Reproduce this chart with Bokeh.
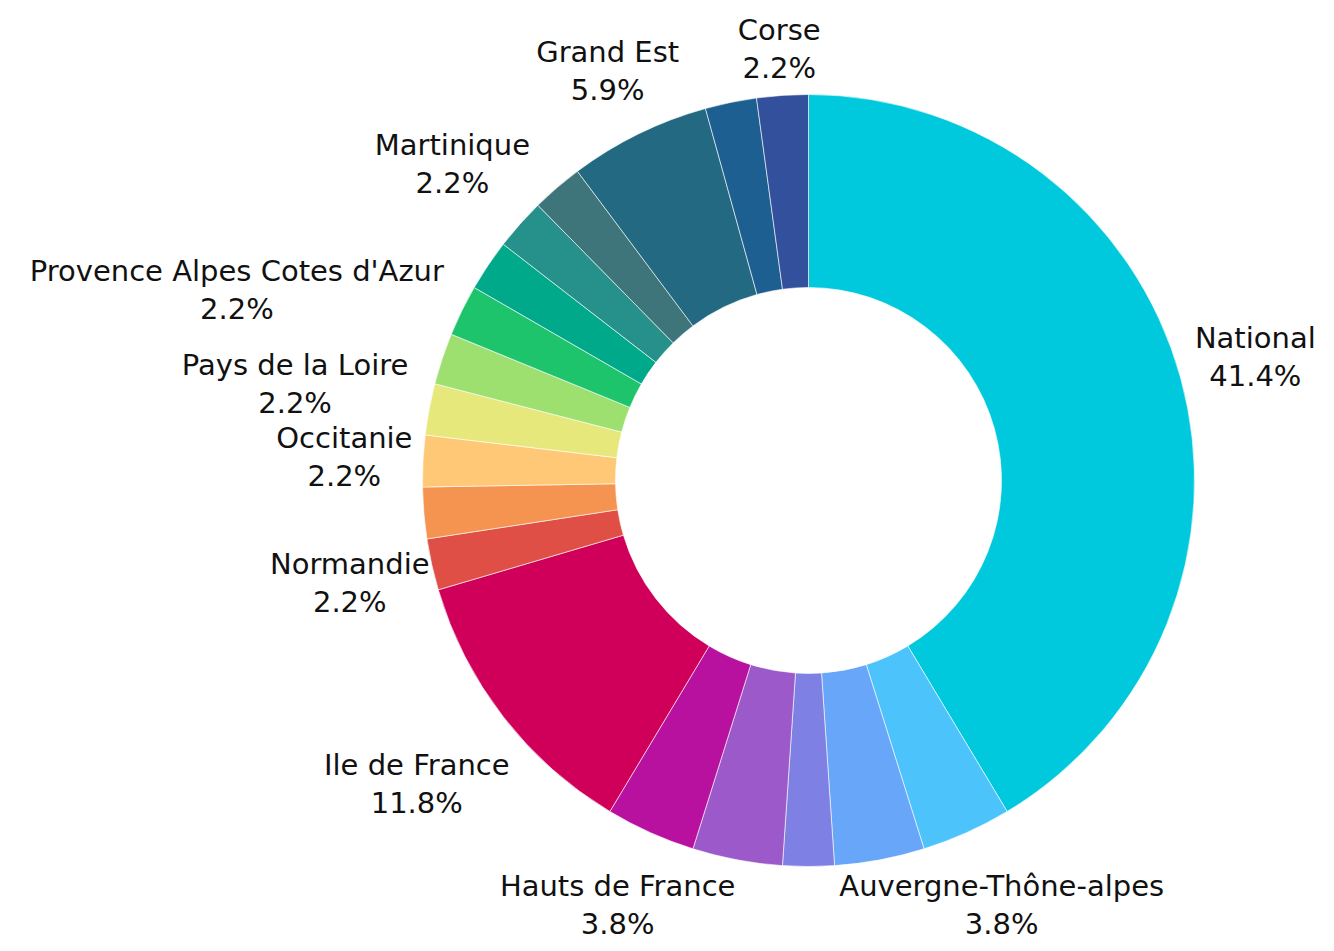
import math
from bokeh.plotting import figure
from bokeh.models import ColumnDataSource, Range1d
from bokeh.core.properties import value
from bokeh.embed import file_html
from bokeh.resources import INLINE

# ---- data (slices clockwise from 12 o'clock) ----
regions = ["National", "Auvergne-Thône-alpes", "", "", "", "Hauts de France",
           "Ile de France", "Normandie", "", "Occitanie", "Pays de la Loire",
           "Provence Alpes Cotes d'Azur", "", "", "Martinique", "", "Grand Est",
           "", "Corse"]
counts = [77, 7, 7, 4, 7, 7, 22, 4, 4, 4, 4, 4, 4, 4, 4, 4, 11, 4, 4]
colors = ["#00C9DD", "#4DC3FB", "#67A6F8", "#7F80E4", "#9B59C9", "#B9119F",
          "#D0005A", "#E04F45", "#F59350", "#FEC877", "#E6E87B", "#9DE070",
          "#1DC46C", "#00A98A", "#26918A", "#3D757A", "#226981", "#1E5F91",
          "#32509B"]

# ---- layout ----
W, H = 1326, 943
CX, CY = 808, 480          # centre, in figure pixels measured from top
R_OUT, R_IN = 386, 193
R_LAB = 395                # labels keep clear of this circle
FS = 29
GAP = 38
FONT = "DejaVu Sans"

total = sum(counts)
starts, ends, mids = [], [], []
acc = 0.0
for c in counts:
    t0 = acc / total * 2 * math.pi
    acc += c
    t1 = acc / total * 2 * math.pi
    starts.append(math.pi / 2 - t0)
    ends.append(math.pi / 2 - t1)
    mids.append((t0 + t1) / 2)

p = figure(width=W, height=H, output_backend="svg", toolbar_location=None,
           x_range=Range1d(0, W), y_range=Range1d(0, H), min_border=0)
p.axis.visible = False
p.grid.visible = False
p.outline_line_color = None
p.background_fill_color = "white"

src = ColumnDataSource(dict(start=starts, end=ends, color=colors))
p.annular_wedge(x=CX, y=H - CY, inner_radius=R_IN, outer_radius=R_OUT,
                start_angle="start", end_angle="end", direction="clock",
                fill_color="color", line_color="white", line_width=0.6,
                source=src)

lx, ly1, ly2, names, pcts = [], [], [], [], []
for name, c, t in zip(regions, counts, mids):
    if not name:
        continue
    pct = f"{100 * c / total:.1f}%"
    hw = 0.53 * FS * max(len(name), len(pct)) / 2
    hh = GAP / 2 + 18
    ux, uy = math.sin(t), -math.cos(t)
    lo, hi = 0.0, 1200.0
    for _ in range(60):
        d = (lo + hi) / 2
        bx, by = d * ux, d * uy
        dx = max(abs(bx) - hw, 0)
        dy = max(abs(by) - hh, 0)
        if math.hypot(dx, dy) < R_LAB:
            lo = d
        else:
            hi = d
    bx, by = CX + hi * ux, CY + hi * uy
    # keep the block inside the canvas
    by = min(by, H - GAP / 2 - FS * 0.62 - 2)
    by = max(by, GAP / 2 + FS * 0.62 + 2)
    lx.append(bx)
    ly1.append(H - (by - GAP / 2))
    ly2.append(H - (by + GAP / 2))
    names.append(name)
    pcts.append(pct)

lsrc = ColumnDataSource(dict(x=lx, y1=ly1, y2=ly2, name=names, pct=pcts))
for ycol, tcol in (("y1", "name"), ("y2", "pct")):
    p.text(x="x", y=ycol, text=tcol, source=lsrc, text_align="center",
           text_baseline="middle", text_font=value(FONT),
           text_font_size=f"{FS}px", text_color="#111111")

open("out.html", "w").write(file_html(p, INLINE))
